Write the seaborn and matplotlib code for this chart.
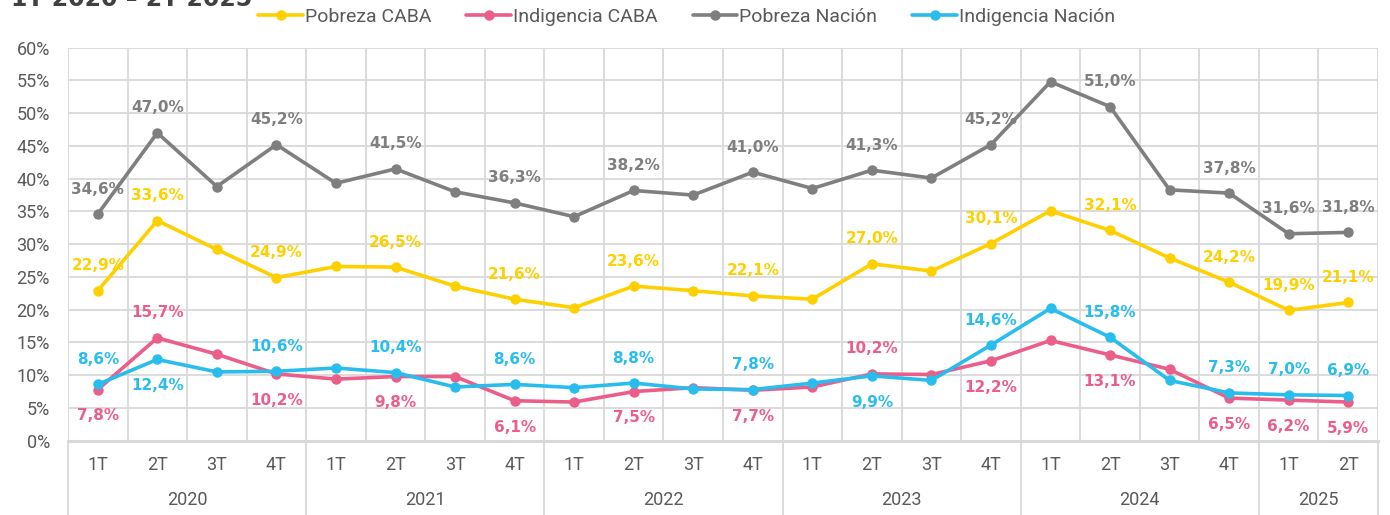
import numpy as np
import pandas as pd
import matplotlib
matplotlib.use("Agg")
import matplotlib.pyplot as plt
from matplotlib.lines import Line2D
import seaborn as sns

# ---- data ----
years = ["2020", "2021", "2022", "2023", "2024", "2025"]
quarters_per_year = [4, 4, 4, 4, 4, 2]
quarter_labels = ["1T", "2T", "3T", "4T"] * 5 + ["1T", "2T"]

pobreza_caba = [22.9, 33.6, 29.2, 24.9, 26.6, 26.5, 23.6, 21.6, 20.3, 23.6, 22.9,
                22.1, 21.6, 27.0, 25.9, 30.1, 35.1, 32.1, 27.9, 24.2, 19.9, 21.1]
indigencia_caba = [7.8, 15.7, 13.2, 10.2, 9.4, 9.8, 9.8, 6.1, 5.9, 7.5, 8.1,
                   7.7, 8.2, 10.2, 10.1, 12.2, 15.3, 13.1, 10.9, 6.5, 6.2, 5.9]
pobreza_nacion = [34.6, 47.0, 38.8, 45.2, 39.3, 41.5, 38.0, 36.3, 34.2, 38.2, 37.5,
                  41.0, 38.5, 41.3, 40.1, 45.2, 54.8, 51.0, 38.3, 37.8, 31.6, 31.8]
indigencia_nacion = [8.6, 12.4, 10.5, 10.6, 11.1, 10.4, 8.2, 8.6, 8.1, 8.8, 7.9,
                     7.8, 8.8, 9.9, 9.2, 14.6, 20.2, 15.8, 9.2, 7.3, 7.0, 6.9]

series_names = ["Pobreza CABA", "Indigencia CABA", "Pobreza Nación", "Indigencia Nación"]
series_values = [pobreza_caba, indigencia_caba, pobreza_nacion, indigencia_nacion]
colors = {"Pobreza CABA": "#FFD000", "Indigencia CABA": "#EB5E8A",
          "Pobreza Nación": "#7F7F7F", "Indigencia Nación": "#29BDEE"}

# which points carry a data label
labeled_idx = [0, 1, 3, 5, 7, 9, 11, 13, 15, 17, 19, 20, 21]
# label below the point for these (series -> indices)
below_idx = {
    "Pobreza CABA": [],
    "Indigencia CABA": [0, 3, 5, 7, 9, 11, 15, 17, 19, 20, 21],
    "Pobreza Nación": [],
    "Indigencia Nación": [1, 13],
}

x_idx = np.arange(len(quarter_labels))
df = pd.concat(
    [pd.DataFrame({"x": x_idx, "valor": v, "serie": n}) for n, v in zip(series_names, series_values)],
    ignore_index=True,
)

# ---- figure ----
sns.set_theme(style="white")
plt.rcParams["font.family"] = ["Liberation Sans Narrow", "Roboto", "DejaVu Sans"]
text_col = "#595959"
grid_col = "#D9D9D9"

fig = plt.figure(figsize=(13.9, 5.15), dpi=100)
ax = fig.add_axes([68 / 1390, 1 - 440.7 / 515, (1378 - 68) / 1390, (440.7 - 47.7) / 515])

sns.lineplot(data=df, x="x", y="valor", hue="serie", hue_order=series_names, palette=colors,
             marker="o", markersize=7.5, markeredgewidth=0, linewidth=2.6, ax=ax, legend=False)

ax.set_xlim(-0.5, len(quarter_labels) - 0.5)
ax.set_ylim(0, 60)
ax.set_yticks(np.arange(0, 61, 5))
ax.set_yticklabels([f"{t}%" for t in range(0, 61, 5)], fontsize=13, color=text_col)
ax.set_xticks(x_idx)
ax.set_xticklabels([])
ax.set_xticks(np.arange(-0.5, len(quarter_labels), 1), minor=True)
ax.tick_params(axis="both", which="both", length=0)
ax.tick_params(axis="y", pad=13)
ax.grid(True, axis="y", which="major", color=grid_col, linewidth=1.3)
ax.grid(True, axis="x", which="minor", color=grid_col, linewidth=1.3)
ax.set_axisbelow(True)
for s in ["top", "right", "left"]:
    ax.spines[s].set_visible(False)
ax.spines["bottom"].set_color(grid_col)
ax.spines["bottom"].set_linewidth(2.2)
ax.set_xlabel("")
ax.set_ylabel("")

# quarter and year labels on the category axis
xt = ax.get_xaxis_transform()
for i, q in enumerate(quarter_labels):
    ax.text(i, -0.062, q, transform=xt, ha="center", va="center", fontsize=13, color=text_col)
start = 0
bounds = [-0.5]
for y, n in zip(years, quarters_per_year):
    ax.text(start + (n - 1) / 2, -0.152, y, transform=xt, ha="center", va="center",
            fontsize=13, color=text_col)
    start += n
    bounds.append(start - 0.5)
for b in bounds:
    ax.plot([b, b], [0, -0.25], transform=xt, color=grid_col, linewidth=1.3, clip_on=False)

# data labels
for name, vals in zip(series_names, series_values):
    for i in labeled_idx:
        below = i in below_idx[name]
        ax.annotate(f"{vals[i]:.1f}%".replace(".", ","), (i, vals[i]),
                    xytext=(0, -19 if below else 18), textcoords="offset points",
                    ha="center", va="center", fontsize=11, fontweight="bold",
                    color=colors[name], family=["DejaVu Sans"])

# legend
handles = [Line2D([0], [0], color=colors[n], linewidth=2.6, marker="o", markersize=7.5,
                  markeredgewidth=0) for n in series_names]
leg = fig.legend(handles, series_names, loc="center", bbox_to_anchor=(0.494, 1 - 17 / 515),
                 ncol=4, frameon=False, fontsize=14, handlelength=2.3, handletextpad=0.1,
                 columnspacing=1.8)
for t in leg.get_texts():
    t.set_color(text_col)

# title (cropped at the top in the reference)
fig.text(11 / 1390, 1 - 6.5 / 515, "1T 2020 – 2T 2025", ha="left", va="baseline",
         fontsize=17, fontweight="bold", color="#404040", family=["DejaVu Sans"])

fig.savefig("out.png", dpi=100)
